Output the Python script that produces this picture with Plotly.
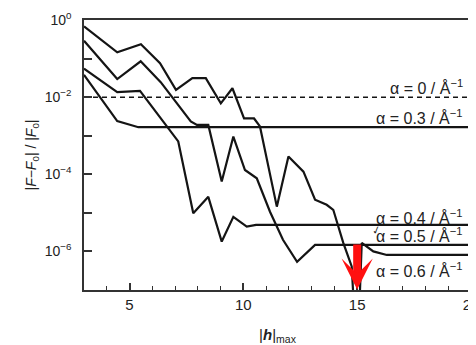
import plotly.graph_objects as go

# ---- data ----
x_a0 = [3, 20]
y_a0 = [1.0e-2, 1.0e-2]

x_a03 = [3, 4.46, 5.39, 20]
y_a03 = [3.8e-2, 2.4e-3, 1.66e-3, 1.66e-3]

x_a04 = [3, 4.46, 5.46, 7.14, 7.80, 8.46, 9.05, 9.56, 10.15, 10.56, 20]
y_a04 = [5.5e-2, 1.35e-2, 1.45e-2, 7.1e-4, 9.8e-6, 2.6e-5, 1.8e-6, 7.9e-6, 4.4e-6, 4.9e-6, 4.9e-6]

x_a05 = [3, 4.46, 5.49, 6.37, 7.69, 7.96, 8.46, 9.05, 9.56, 10.07, 10.59, 11.17, 11.74, 12.36, 13.15, 20]
y_a05 = [2.9e-1, 2.95e-2, 8.5e-2, 2.45e-2, 2.35e-3, 1.9e-3, 1.9e-3, 6.5e-5, 9.5e-4, 1.29e-4, 7.9e-5,
         1.07e-5, 2.0e-6, 5.4e-7, 1.48e-6, 1.48e-6]

x_a06 = [3, 4.46, 5.50, 6.34, 7.04, 7.76, 8.35, 9.01, 9.52, 10.03, 10.47, 10.73, 11.47, 11.98, 12.64,
         13.15, 13.66, 13.95, 14.39, 14.76, 15.0, 15.2, 15.71, 16.3, 20]
y_a06 = [6.8e-1, 1.45e-1, 2.34e-1, 7.6e-2, 1.55e-2, 3.1e-2, 3.1e-2, 6.9e-3, 1.7e-2, 2.8e-3, 2.8e-3,
         1.74e-3, 1.45e-5, 2.9e-4, 1.17e-4, 2.2e-5, 1.62e-5, 1.2e-5, 1.66e-6, 4.1e-7, 1.0e-9,
         1.66e-6, 1.0e-6, 8.1e-7, 8.1e-7]

labels = ["α = 0 / Å<sup>−1</sup>", "α = 0.3 / Å<sup>−1</sup>", "α = 0.4 / Å<sup>−1</sup>",
          "α = 0.5 / Å<sup>−1</sup>", "α = 0.6 / Å<sup>−1</sup>"]
label_y = [-1.74, -2.51, -5.10, -5.57, -6.48]

ytick_vals = [1, 1e-1, 1e-2, 1e-3, 1e-4, 1e-5, 1e-6, 1e-7]
ytick_text = ["10<sup>0</sup>", "", "10<sup>−2</sup>", "", "10<sup>−4</sup>", "", "10<sup>−6</sup>", ""]

FONT = "Liberation Sans, Arial, sans-serif"
INK = "#141414"

fig = go.Figure()
fig.add_trace(go.Scatter(x=x_a0, y=y_a0, mode="lines",
                         line=dict(color=INK, width=1.5, dash="5px,4px"), showlegend=False))
for xs, ys in [(x_a03, y_a03), (x_a04, y_a04), (x_a05, y_a05), (x_a06, y_a06)]:
    fig.add_trace(go.Scatter(x=xs, y=ys, mode="lines",
                             line=dict(color=INK, width=2.2), showlegend=False))

for txt, yy in zip(labels, label_y):
    fig.add_annotation(x=19.72, y=yy, xref="x", yref="y", text=txt, showarrow=False,
                       xanchor="right", yanchor="middle",
                       font=dict(family=FONT, size=16, color="#222"))

# check mark
fig.add_annotation(x=15.85, y=-5.47, xref="x", yref="y", text="✓", showarrow=False,
                   font=dict(family="DejaVu Sans", size=11, color="#222"), textangle=-15)

# red arrow at |h|max = 15
fig.add_annotation(x=15, y=-6.99, xref="x", yref="y", ax=0, ay=-47, showarrow=True,
                   arrowhead=3, arrowsize=0.65, arrowwidth=8, arrowcolor="#ff1010",
                   text=" ", font=dict(size=1))

# the page body has an 8 px margin, so the figure is 8 px smaller and margins shifted
fig.update_layout(
    width=468, height=337,
    margin=dict(l=76, r=5, t=12, b=55),
    paper_bgcolor="white", plot_bgcolor="white",
    font=dict(family=FONT, color="#222", size=14),
)
fig.update_xaxes(
    range=[3, 20], tickvals=[5, 10, 15, 20], ticks="inside", ticklen=7, tickwidth=1.5,
    tickcolor="#333", showgrid=False, zeroline=False, automargin=False,
    ticklabeloverflow="allow",
    showline=True, linecolor="#333", linewidth=1.5, mirror=True,
    tickfont=dict(size=15, family=FONT, color="#222"),
    minor=dict(dtick=1, tick0=0, ticks="inside", ticklen=4, tickwidth=1.2, tickcolor="#333"),
    title=dict(text="|<b><i>h</i></b>|<sub>max</sub>", font=dict(size=15, family=FONT, color="#222"),
               standoff=20),
)
fig.update_yaxes(
    type="log", range=[-7, 0], tickvals=ytick_vals, ticktext=ytick_text,
    ticks="inside", ticklen=8, tickwidth=1.5, tickcolor="#333", showgrid=False, zeroline=False,
    automargin=False, ticklabeloverflow="allow",
    showline=True, linecolor="#333", linewidth=1.5, mirror=True,
    tickfont=dict(size=14, family=FONT, color="#222"), ticklabelstandoff=8,
    title=dict(text="|<i>F</i>−<i>F</i><sub>0</sub>| / |<i>F</i><sub>0</sub>|",
               font=dict(size=14, family=FONT, color="#222"), standoff=5),
)

fig.write_html("out.html")
